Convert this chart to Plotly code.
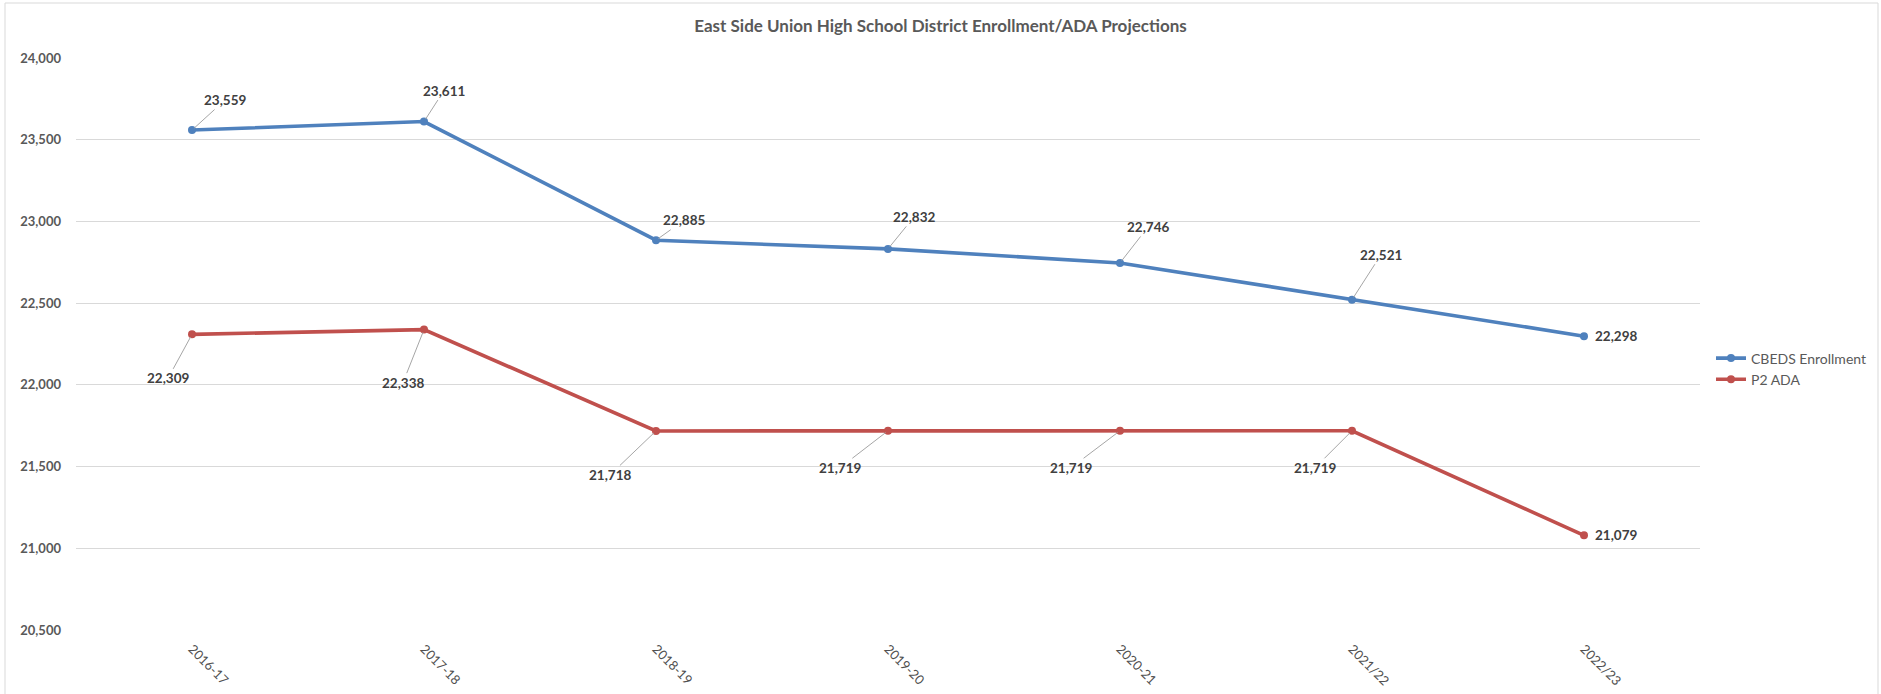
import plotly.graph_objects as go

categories = ["2016-17", "2017-18", "2018-19", "2019-20", "2020-21", "2021/22", "2022/23"]
cbeds = [23559, 23611, 22885, 22832, 22746, 22521, 22298]
p2ada = [22309, 22338, 21718, 21719, 21719, 21719, 21079]

# label offsets in pixels (style only): (dx, dy, show_leader)
cbeds_off = [(33, -30, True), (20, -31, True), (28, -20, True), (26, -32, True),
             (28, -36, True), (29, -45, True), (32, 0, False)]
p2_off = [(-24, 44, True), (-21, 53, True), (-46, 44, True), (-48, 37, True),
          (-49, 37, True), (-37, 37, True), (32, 0, False)]

BLUE = "#4F81BD"
RED = "#C0504D"
FONT = "Lato, 'Open Sans', sans-serif"

fig = go.Figure()
fig.add_trace(go.Scatter(x=categories, y=cbeds, mode="lines+markers", name="CBEDS Enrollment",
                         line=dict(color=BLUE, width=3.6), marker=dict(size=8, color=BLUE)))
fig.add_trace(go.Scatter(x=categories, y=p2ada, mode="lines+markers", name="P2 ADA",
                         line=dict(color=RED, width=3.6), marker=dict(size=8, color=RED)))

annotations = []
for series, offs in ((cbeds, cbeds_off), (p2ada, p2_off)):
    for c, v, (dx, dy, lead) in zip(categories, series, offs):
        txt = f"<b>{v:,}</b>"
        if lead:
            annotations.append(dict(x=c, y=v, xref="x", yref="y", text=txt, showarrow=True,
                                    ax=dx, ay=dy, arrowhead=0, arrowwidth=1, arrowcolor="#A6A6A6",
                                    standoff=3, font=dict(family=FONT, size=13.5, color="#404040")))
        else:
            annotations.append(dict(x=c, y=v, xref="x", yref="y", text=txt, showarrow=False,
                                    xshift=dx, yshift=-dy, font=dict(family=FONT, size=13.5, color="#404040")))

fig.update_layout(
    width=1881, height=694,
    margin=dict(l=76, r=181, t=58, b=64, autoexpand=False),
    paper_bgcolor="white", plot_bgcolor="white",
    font=dict(family=FONT, color="#595959"),
    title=dict(text="<b>East Side Union High School District Enrollment/ADA Projections</b>",
               x=0.5, xanchor="center", y=1 - 26 / 694, yanchor="middle", yref="container",
               font=dict(family=FONT, size=17, color="#595959")),
    xaxis=dict(type="category", range=[-0.5, 6.5], showgrid=False, showline=False, zeroline=False,
               tickangle=45, ticks="", ticklabelstandoff=8, automargin=False,
               tickfont=dict(family=FONT, size=13, color="#505050")),
    yaxis=dict(range=[20500, 24000], dtick=500, tickformat=",", showgrid=True, gridcolor="#D9D9D9",
               gridwidth=1, zeroline=False, showline=False, ticks="", ticklabelstandoff=14, automargin=False,
               tickfont=dict(family=FONT, size=13, color="#595959"), tickprefix="<b>", ticksuffix="</b>"),
    legend=dict(xref="container", yref="container", x=1711 / 1881, xanchor="left",
                y=1 - 369 / 694, yanchor="middle", bgcolor="rgba(0,0,0,0)",
                font=dict(family=FONT, size=14, color="#595959"), tracegroupgap=7),
    annotations=annotations,
    shapes=[dict(type="rect", xref="paper", yref="paper", x0=(5 - 76) / 1624, x1=(1878 - 76) / 1624,
                 y0=-0.2, y1=(630 - 3) / 572, line=dict(color="#D9D9D9", width=1), layer="below")],
)

fig.write_html("out.html")
